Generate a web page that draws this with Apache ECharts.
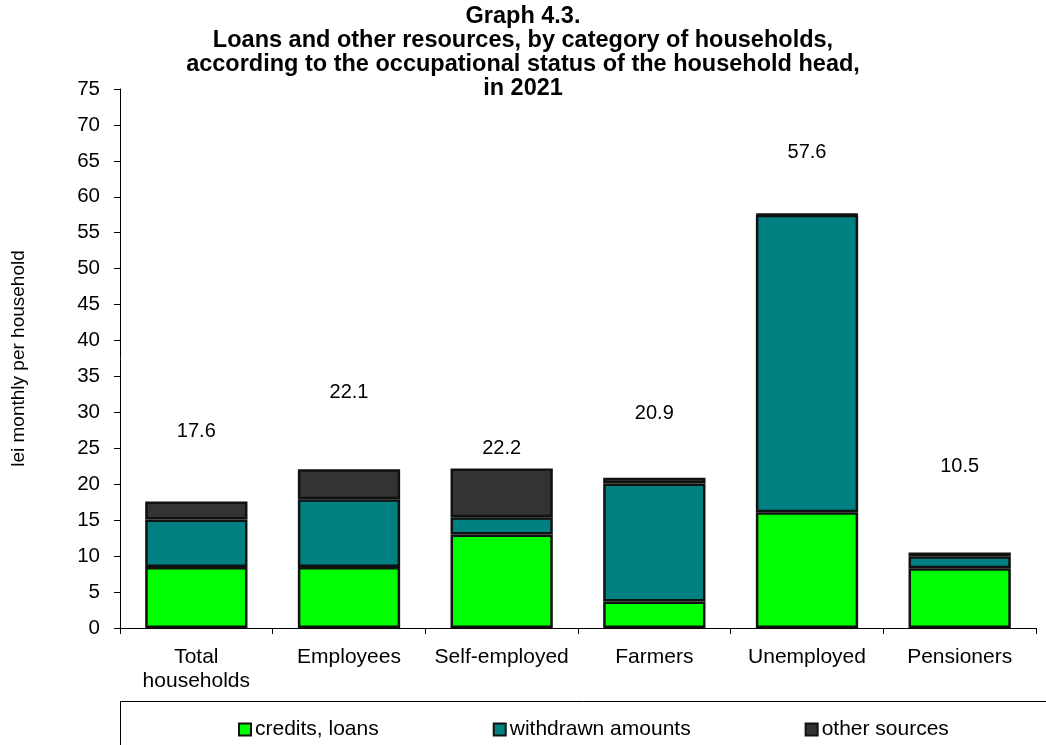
<!DOCTYPE html>
<html>
<head>
<meta charset="utf-8">
<script src="https://cdn.jsdelivr.net/npm/echarts@6/dist/echarts.min.js"></script>
<style>
  html, body { margin: 0; padding: 0; background: #fff; }
  #chart { width: 1046px; height: 745px; }
</style>
</head>
<body>
<div id="chart"></div>
<script>
// categories and values (lei monthly per household)
var categories = ['Total\nhouseholds', 'Employees', 'Self-employed', 'Farmers', 'Unemployed', 'Pensioners'];
var credits = [8.5, 8.5, 13.0, 3.7, 16.1, 8.3];
var withdrawn = [6.6, 9.4, 2.4, 16.4, 41.4, 1.7];
var otherSrc = [2.5, 4.2, 6.8, 0.8, 0.1, 0.5];
var totals = [17.6, 22.1, 22.2, 20.9, 57.6, 10.5];
var yTicks = [0, 75, 5];

// how far (px) each total label floats above its bar, as in the original
var labelLift = [70, 77, 20, 64, 62, 86];

var font = 'Liberation Sans, Arial, sans-serif';
var chart = echarts.init(document.getElementById('chart'));

var barStyle = function (c) {
  return { color: c, borderColor: '#111', borderWidth: 2.5 };
};

var option = {
  backgroundColor: '#fff',
  animation: false,
  title: {
    text: 'Graph 4.3.\nLoans and other resources, by category of households,\naccording to the occupational status of the household head,\nin 2021',
    left: 'center',
    top: 0,
    textStyle: { fontFamily: font, fontWeight: 'bold', fontSize: 23.5, lineHeight: 24, color: '#000' }
  },
  grid: { left: 120, right: 10, top: 89, bottom: 117, containLabel: false },
  legend: {
    left: 233,
    top: 714,
    itemWidth: 12,
    itemHeight: 12,
    itemGap: 114,
    icon: 'rect',
    textStyle: { fontFamily: font, fontSize: 21, color: '#000', padding: [0, 0, 0, -1] },
    data: ['credits, loans', 'withdrawn amounts', 'other sources']
  },
  xAxis: {
    type: 'category',
    data: categories,
    axisLine: { lineStyle: { color: '#000', width: 1 } },
    axisTick: { show: true, length: 6, lineStyle: { color: '#000' } },
    axisLabel: { interval: 0, fontFamily: font, fontSize: 21, color: '#000', margin: 17, lineHeight: 24 }
  },
  yAxis: {
    type: 'value',
    min: yTicks[0],
    max: yTicks[1],
    interval: yTicks[2],
    name: 'lei monthly per household',
    nameLocation: 'middle',
    nameGap: 92,
    nameTextStyle: { fontFamily: font, fontSize: 19, color: '#000' },
    axisLine: { show: true, lineStyle: { color: '#000', width: 1 } },
    axisTick: { show: true, length: 6, lineStyle: { color: '#000' } },
    splitLine: { show: false },
    axisLabel: { fontFamily: font, fontSize: 20.5, color: '#000', margin: 20 }
  },
  series: [
    { name: 'credits, loans', type: 'bar', stack: 's', barCategoryGap: '33%', data: credits, itemStyle: barStyle('#00ff00') },
    { name: 'withdrawn amounts', type: 'bar', stack: 's', data: withdrawn, itemStyle: barStyle('#008080') },
    { name: 'other sources', type: 'bar', stack: 's', data: otherSrc, itemStyle: barStyle('#333333') },
    {
      name: 'total', type: 'scatter', symbolSize: 0, silent: true,
      itemStyle: { opacity: 1 },
      data: totals.map(function (v, i) {
        return { value: v, label: { offset: [0, -labelLift[i]] } };
      }),
      label: {
        show: true, position: 'inside', fontFamily: font, fontSize: 20, color: '#000',
        textBorderWidth: 0,
        formatter: function (p) { return p.value.toFixed(1); }
      }
    }
  ],
  graphic: [{
    type: 'rect',
    shape: { x: 120.5, y: 701.5, width: 1000, height: 100 },
    style: { fill: 'none', stroke: '#000', lineWidth: 1 },
    z: -1
  }]
};

chart.setOption(option);
</script>
</body>
</html>
